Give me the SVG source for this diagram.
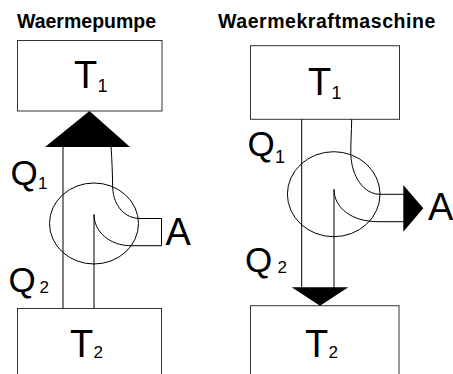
<svg xmlns="http://www.w3.org/2000/svg" width="453" height="374" viewBox="0 0 453 374">
  <style>
    .box { fill: #fff; stroke: #333; stroke-width: 1; }
    .ln { fill: none; stroke: #000; stroke-width: 1; }
    .head { fill: #000; stroke: none; }
    .title { font-family: "Liberation Sans", Arial, sans-serif; font-weight: bold; font-size: 19.5px; fill: #000; }
    .big { font-family: "Liberation Sans", Arial, sans-serif; font-size: 38px; fill: #000; }
    .q { font-family: "Liberation Sans", Arial, sans-serif; font-size: 35px; fill: #000; }
    .sub { font-size: 17px; }
    .sub1 { font-size: 18px; }
  </style>
  <rect width="453" height="374" fill="#fff"/>

  <!-- heat pump -->
  <text class="title" x="17" y="28">Waermepumpe</text>
  <g id="hp-t1">
    <rect class="box" x="17.5" y="40.5" width="144.5" height="70.5"/>
    <text class="big" x="74" y="88">T<tspan class="sub1" x="97.4" y="92">1</tspan></text>
  </g>
  <g id="hp-t2">
    <rect class="box" x="17.5" y="308.5" width="144" height="80"/>
    <text class="big" x="70" y="357">T<tspan class="sub" x="93.4" y="357.5">2</tspan></text>
  </g>
  <g id="hp-machine">
    <ellipse class="ln" cx="94" cy="223.5" rx="44.5" ry="40.5"/>
  </g>
  <g id="hp-connectors">
    <line class="ln" x1="63" y1="146" x2="63" y2="308.5"/>
    <path class="ln" d="M111,146 C112,160 112.5,175 112.7,188 C113.5,206 125,218.5 140,218.5 L161.5,218.5 L161.5,245.7 L131,245.7 C110,245.7 94,232 94,214.5 L94,308.5"/>
    <polygon class="head" points="89.5,111 45,147 130,147"/>
  </g>
  <g id="hp-labels">
    <text class="q" x="10.5" y="185">Q<tspan class="sub" x="37.9" y="188.5">1</tspan></text>
    <text class="q" x="8.5" y="292">Q<tspan class="sub" x="39.5" y="293">2</tspan></text>
    <text class="big" x="165.5" y="245">A</text>
  </g>

  <!-- heat engine -->
  <text class="title" x="218" y="28" letter-spacing="0.55">Waermekraftmaschine</text>
  <g id="he-t1">
    <rect class="box" x="250.5" y="45.7" width="149" height="73.6"/>
    <text class="big" x="308" y="95">T<tspan class="sub1" x="331.4" y="99">1</tspan></text>
  </g>
  <g id="he-t2">
    <rect class="box" x="250.5" y="305.7" width="148.5" height="80"/>
    <text class="big" x="305" y="357">T<tspan class="sub" x="328.4" y="357.5">2</tspan></text>
  </g>
  <g id="he-machine">
    <ellipse class="ln" cx="333.7" cy="194.2" rx="46.3" ry="42.5"/>
  </g>
  <g id="he-connectors">
    <line class="ln" x1="301.7" y1="119.3" x2="301.7" y2="288"/>
    <path class="ln" d="M334,288 L334,189.3 C334,208 352,221.7 378,221.7 L404,221.7"/>
    <path class="ln" d="M351.7,119.3 C351.5,132 350.7,142 350.8,154 C351.5,177 364,194.3 380,194.3 L404,194.3"/>
    <polygon class="head" points="291.7,287.3 348.3,287.3 320,305.7"/>
    <polygon class="head" points="403.3,185 403.3,231.7 423.3,208.3"/>
  </g>
  <g id="he-labels">
    <text class="q" x="247.5" y="155.5">Q<tspan class="sub1" x="274.9" y="162.5">1</tspan></text>
    <text class="q" x="245" y="272">Q<tspan class="sub" x="277.5" y="272.5">2</tspan></text>
    <text class="big" x="428" y="220">A</text>
  </g>
</svg>
